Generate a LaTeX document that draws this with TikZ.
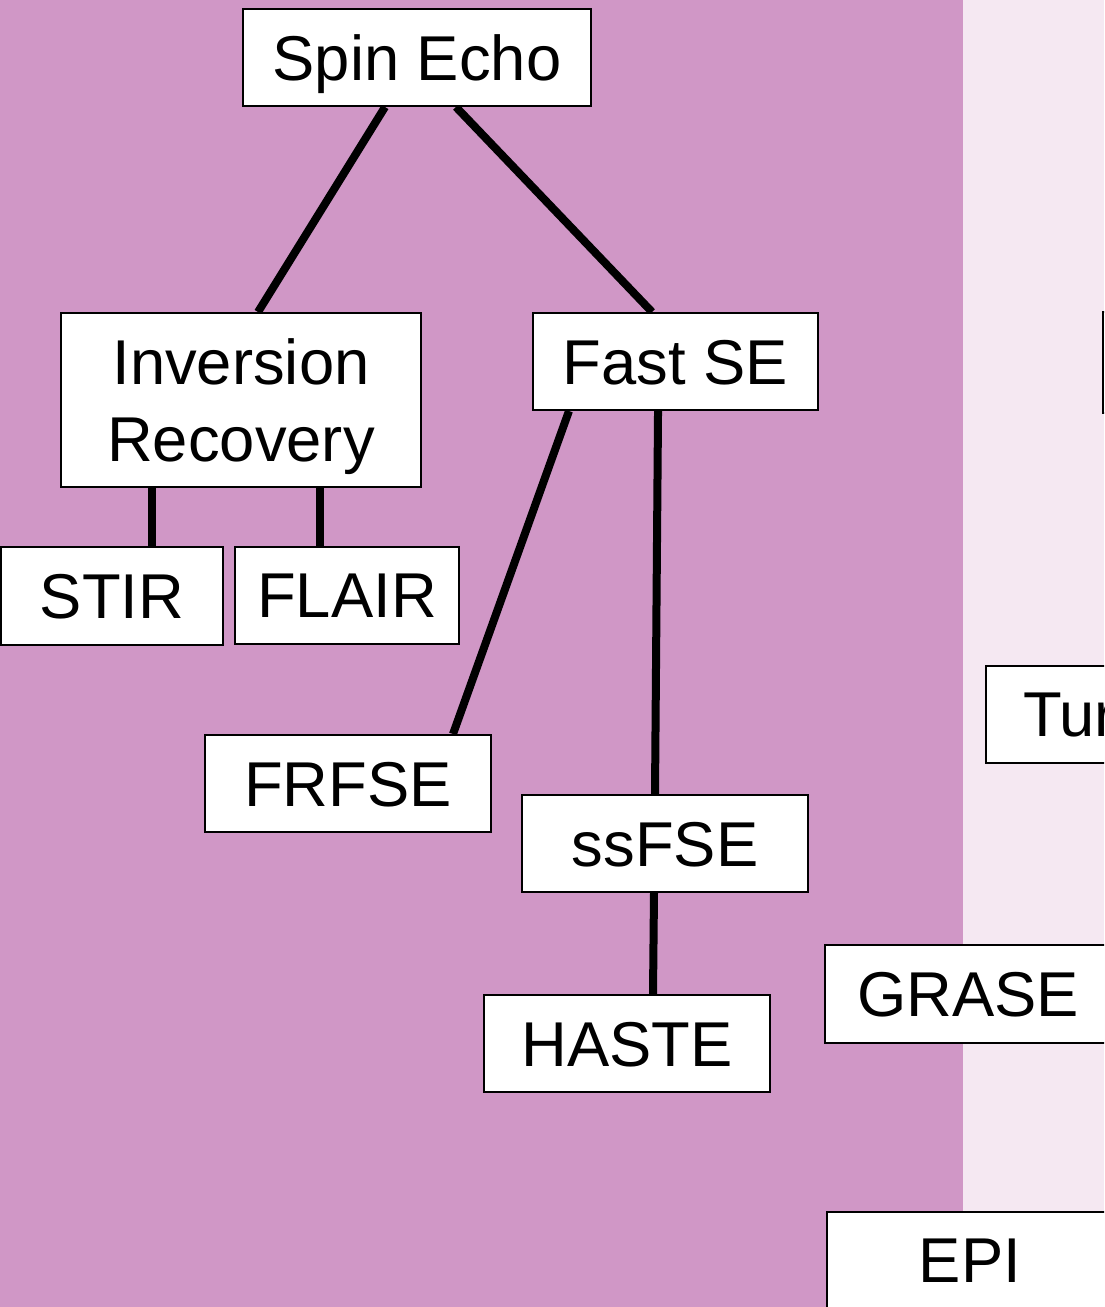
\documentclass[tikz,border=0pt]{standalone}
\usepackage{fontspec}
\setmainfont{Liberation Sans}
\usetikzlibrary{backgrounds}
\definecolor{panelA}{HTML}{D097C6}
\definecolor{panelB}{HTML}{F5E8F2}
\tikzset{
  seqbox/.style={draw=black, line width=1.5pt, fill=white, inner sep=0pt,
    font=\fontsize{47.5}{57.75}\selectfont, text height=34pt, text depth=0pt,
    minimum width=214.5pt, minimum height=72.75pt},
  link/.style={line width=6pt, black}
}
\begin{document}
\begin{tikzpicture}[x=0.75pt, y=-0.75pt]
\useasboundingbox (0,0) rectangle (1104,1307);
\clip (0,0) rectangle (1104,1307);

% sequence family boxes
\node[seqbox, minimum width=261pt] (se) at (417,57.5) {Spin Echo};
\node[seqbox, minimum width=270pt, minimum height=130.5pt, align=center,
      text height=91.75pt] (ir) at (241,400) {Inversion\\Recovery};
\node[seqbox, minimum width=213.75pt] (fse) at (675.5,361.5) {Fast SE};
\node[seqbox, minimum width=166.5pt, minimum height=73.5pt] (stir) at (112,596) {STIR};
\node[seqbox, minimum width=168pt] (flair) at (347,595) {FLAIR};
\node[seqbox] (frfse) at (348,783.5) {FRFSE};
\node[seqbox] (ssfse) at (665,843.5) {ssFSE};
\node[seqbox] (haste) at (627,1043.5) {HASTE};
\node[seqbox, minimum height=73.5pt] (grase) at (968,994) {GRASE};
\node[seqbox] (epi) at (970,1260) {EPI};
\node[seqbox, anchor=west, align=left, text width=200pt, inner xsep=27.75pt]
      (turbo) at (985,714) {Turbo};
\node[seqbox, anchor=west, minimum height=75.75pt] (gre) at (1102,362.5) {};

\begin{scope}[on background layer]
  \fill[panelA] (0,0) rectangle (963,1307);
  \fill[panelB] (963,0) rectangle (1104,1307);
  \draw[link] ([xshift=-24pt]se.south) -- ([xshift=12.75pt]ir.north);
  \draw[link] ([xshift=29.25pt]se.south) -- ([xshift=-17.6pt]fse.north);
  \draw[link] ([xshift=-66.75pt]ir.south) -- ([xshift=-66.75pt]ir.south |- stir.north);
  \draw[link] ([xshift=59.25pt]ir.south) -- ([xshift=59.25pt]ir.south |- flair.north);
  \draw[link] ([xshift=-79.9pt]fse.south) -- ([xshift=78.75pt]frfse.north);
  \draw[link] ([xshift=-13.1pt]fse.south) -- ([xshift=-7.5pt]ssfse.north);
  \draw[link] ([xshift=-8.25pt]ssfse.south) -- ([xshift=19.5pt]haste.north);
\end{scope}
\end{tikzpicture}
\end{document}
